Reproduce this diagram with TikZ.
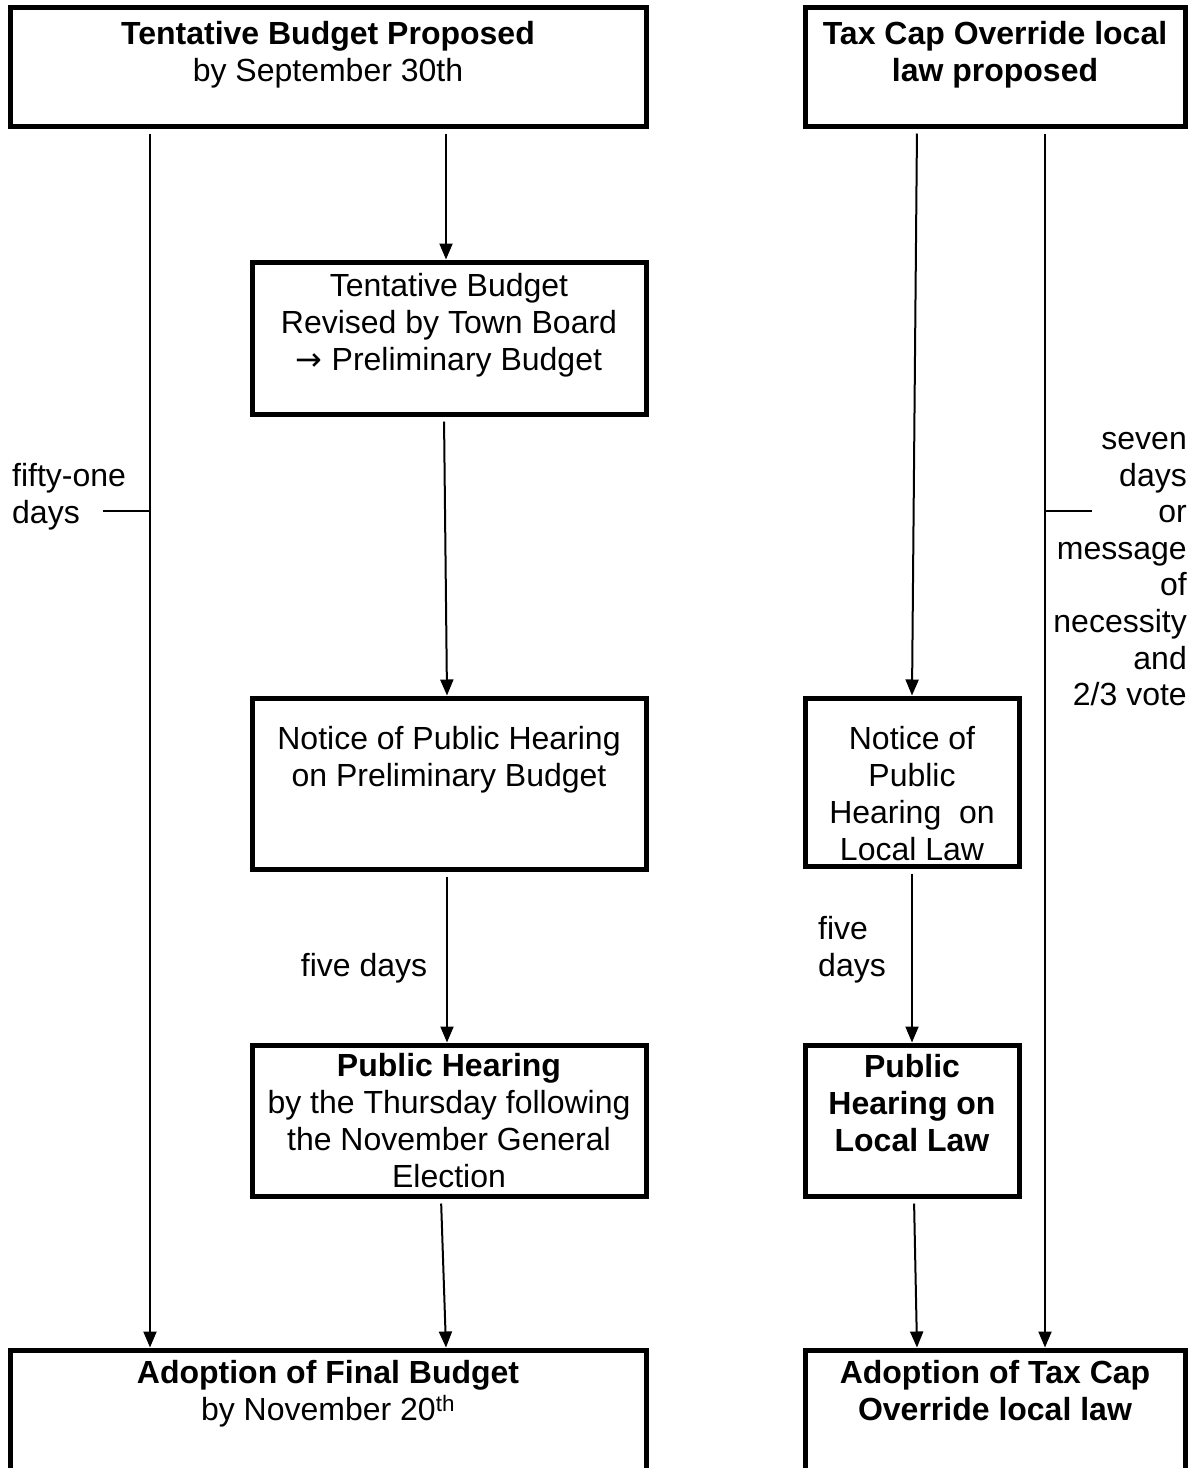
\documentclass[tikz,border=0pt]{standalone}
\usepackage{fontspec}
\setmainfont{Liberation Sans}
\newfontfamily\arrowfont{DejaVu Sans}
\usetikzlibrary{arrows.meta}
\begin{document}
\begin{tikzpicture}[x=1pt,y=-1pt,
  box/.style={draw, line width=5pt, rectangle, inner sep=0pt},
  txt/.style={inner sep=0pt, anchor=north, align=center, font=\fontsize{32}{37}\selectfont, execute at begin node={\rule{0pt}{24pt}}},
  conn/.style={line width=2pt, -{Triangle[width=13pt,length=16pt]}, shorten <=5pt},
  tickline/.style={line width=2pt}]
\useasboundingbox (0,0) rectangle (1189,1468);
\clip (0,0) rectangle (1189,1468);
% boxes
\node[box, minimum width=636pt, minimum height=119pt] (A) at (328,66.5) {};
\node[box, minimum width=380pt, minimum height=119pt] (B) at (995,66.5) {};
\node[box, minimum width=394pt, minimum height=152pt] (C) at (449,338) {};
\node[box, minimum width=394pt, minimum height=171pt] (D) at (449,783.5) {};
\node[box, minimum width=394pt, minimum height=151pt] (E) at (449,1120.5) {};
\node[box, minimum width=636pt, minimum height=170pt] (F) at (328,1435) {};
\node[box, minimum width=214pt, minimum height=168pt] (G) at (912,782) {};
\node[box, minimum width=214pt, minimum height=151pt] (H) at (912,1120.5) {};
\node[box, minimum width=380pt, minimum height=170pt] (I) at (995,1435) {};
% box texts
\node[txt] (At) at (328,21) {\textbf{Tentative Budget Proposed}\\by September 30th};
\node[txt] (Bt) at (995,21) {\textbf{Tax Cap Override local}\\\textbf{law proposed}};
\node[txt] (Ct) at (449,273) {Tentative Budget\\Revised by Town Board\\{\arrowfont →} Preliminary Budget};
\node[txt] (Dt) at (449,726) {Notice of Public Hearing\\on Preliminary Budget};
\node[txt] (Et) at (449,1053) {\textbf{Public Hearing}\\by the Thursday following\\the November General\\Election};
\node[txt] (Ft) at (328,1360) {\textbf{Adoption of Final Budget}\\by November 20\textsuperscript{th}};
\node[txt] (Gt) at (912,726) {Notice of\\Public\\Hearing\ \ on\\Local Law};
\node[txt] (Ht) at (912,1054) {\textbf{Public}\\\textbf{Hearing on}\\\textbf{Local Law}};
\node[txt] (It) at (995,1360) {\textbf{Adoption of Tax Cap}\\\textbf{Override local law}};
% labels
\node[txt, anchor=north west, align=left] (l1) at (12,463) {fifty-one\\days};
\node[txt, anchor=north east, align=right, font=\fontsize{32}{36.6}\selectfont] (l2) at (1187,432) {seven\\days\\or\\message\\of\\necessity\\and\\2/3 vote};
\node[txt] (l3) at (364,952) {five days};
\node[txt, anchor=north west, align=left] (l4) at (818,916) {five\\days};
% x positions
\coordinate (xL) at (150,0);
\coordinate (xa) at (446,0);
\coordinate (xb1) at (444,0);
\coordinate (xb2) at (447,0);
\coordinate (xc) at (447,0);
\coordinate (xd1) at (441,0);
\coordinate (xd2) at (446,0);
\coordinate (xr1) at (917,0);
\coordinate (xr2) at (912,0);
\coordinate (xr4a) at (914,0);
\coordinate (xr4b) at (917,0);
\coordinate (xR) at (1045,0);
% connectors
\draw[conn] (A.south -| xL) -- (F.north -| xL);
\draw[conn] (A.south -| xa) -- (C.north -| xa);
\draw[conn] (C.south -| xb1) -- (D.north -| xb2);
\draw[conn] (D.south -| xc) -- (E.north -| xc);
\draw[conn] (E.south -| xd1) -- (F.north -| xd2);
\draw[conn] (B.south -| xr1) -- (G.north -| xr2);
\draw[conn] (G.south -| xr2) -- (H.north -| xr2);
\draw[conn] (H.south -| xr4a) -- (I.north -| xr4b);
\draw[conn] (B.south -| xR) -- (I.north -| xR);
% ticks
\coordinate (tL) at (103,511);
\coordinate (tR) at (1092,511);
\draw[tickline] (tL) -- (tL -| xL);
\draw[tickline] (tR) -- (tR -| xR);
\end{tikzpicture}
\end{document}
